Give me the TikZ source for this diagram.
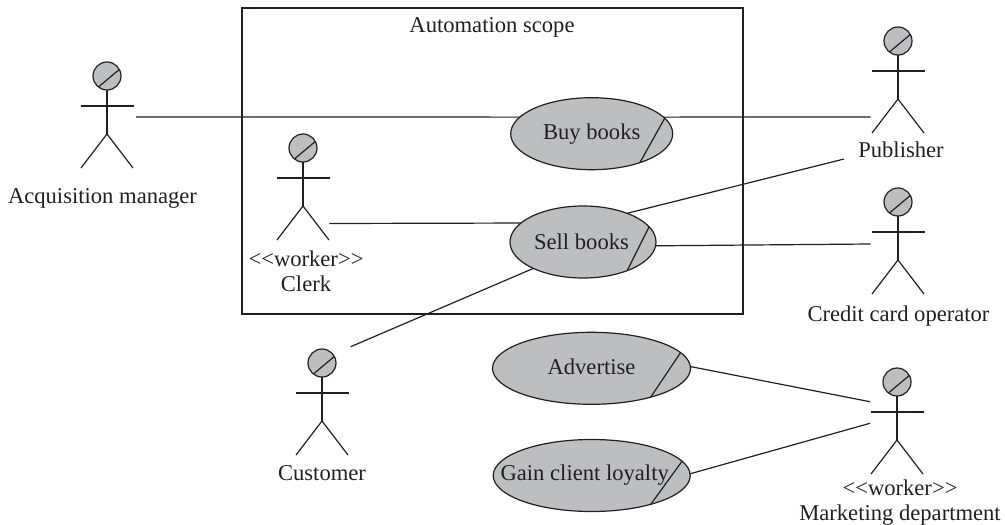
\documentclass[tikz,border=0pt]{standalone}
\usepackage{fontspec}
\setmainfont{Liberation Serif}
\definecolor{casegray}{HTML}{BCBEC0}
\definecolor{inkblack}{HTML}{231F20}
\tikzset{
  diagramtext/.style={font=\fontsize{22.6}{25}\selectfont,text=inkblack},
  usecase/.style={ellipse,draw=inkblack,fill=casegray,line width=1.2pt,inner sep=0pt,outer sep=0pt,minimum height=72pt,diagramtext},
  actorhead/.style={circle,draw=inkblack,fill=casegray,line width=1.2pt,inner sep=0pt,outer sep=0pt,minimum size=28pt},
  actorlabel/.style={diagramtext,align=center,inner sep=0pt},
  link/.style={draw=inkblack,line width=1.2pt},
  actor/.pic={
    \node[actorhead] (-head) at (0,0) {};
    \draw[link] (-head.232) -- (-head.28);
    \draw[link] (-head.south) -- (0,58);
    \draw[link] (-26.5,30) -- (26.5,30);
    \draw[link] (-26,92) -- (0,58) -- (26,92);
  }
}
\usetikzlibrary{shapes.geometric}
\begin{document}
\begin{tikzpicture}[x=1pt,y=-1pt]
        \useasboundingbox (0,0) rectangle (1005,525);

        % Scope box
        \node[draw=inkblack,line width=1.1pt,inner sep=0pt,minimum width=501pt,minimum height=306pt] (scope) at (492.5,161) {};
        \node[diagramtext,inner sep=0pt] (scopetitle) at (492,27) {Automation scope};

        % Use cases
        \node[usecase,minimum width=162pt] (buy) at (591.7,133.7) {\makebox[0pt]{Buy books}};
        \node[usecase,minimum width=146pt] (sell) at (583,242) {\makebox[0pt]{\kern-3pt Sell books}};
        \node[usecase,minimum width=198pt] (advertise) at (591.5,368.3) {\raisebox{3pt}{\makebox[0pt]{Advertise}}};
        \node[usecase,minimum width=197pt] (gain) at (591.7,475.5) {\makebox[0pt]{\kern-14pt Gain client loyalty}};

        % Slashes
        \draw[link] (buy.12) -- (buy.-31);
        \draw[link] (sell.13) -- (sell.-33);
        \draw[link] (advertise.10) -- (advertise.-26);
        \draw[link] (gain.9) -- (gain.-26);

        % Actors
        \pic (acq) at (107,76) {actor};
        \pic (clerk) at (303,148) {actor};
        \pic (publisher) at (898,41) {actor};
        \pic (credit) at (898,202) {actor};
        \pic (customer) at (322,363) {actor};
        \pic (marketing) at (897,382) {actor};

        % Actor names
        \node[actorlabel] (acqname) at (102.5,198.5) {Acquisition manager};
        \node[actorlabel] (clerkname) at (306,271) {<{}<worker>{}>\\Clerk};
        \node[actorlabel] (publishername) at (901,150) {Publisher};
        \node[actorlabel] (creditname) at (898.5,316) {Credit card operator};
        \node[actorlabel] (customername) at (322,473) {Customer};
        \node[actorlabel] (marketingname) at (900,503) {<{}<worker>{}>\\Marketing department};

        % Free ends next to the actors
        \coordinate (acqend) at (136,117);
        \coordinate (clerkend) at (329.3,223.5);
        \coordinate (publisherend) at (870.7,117);
        \coordinate (publisherlow) at (844,159);
        \coordinate (creditend) at (870.7,244);
        \coordinate (customerend) at (350.7,346.7);
        \coordinate (marketingup) at (870,401.7);
        \coordinate (marketinglow) at (870,423.3);

        % Connections
        \draw[link] (acqend) -- (buy.167);
        \draw[link] (buy.13) -- (publisherend);
        \draw[link] (clerkend) -- (sell.163);
        \draw[link] (sell.33) -- (publisherlow);
        \draw[link] (sell.-3) -- (creditend);
        \draw[link] (customerend) -- (sell.208);
        \draw[link] (advertise.1) -- (marketingup);
        \draw[link] (gain.1) -- (marketinglow);
      \end{tikzpicture}
\end{document}
